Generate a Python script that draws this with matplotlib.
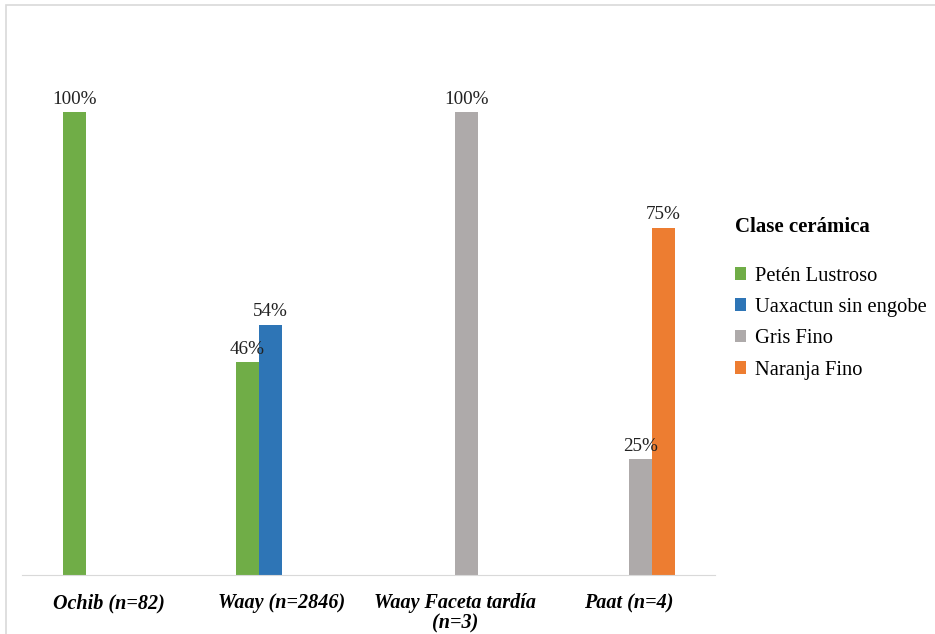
import numpy as np
import matplotlib.pyplot as plt
from matplotlib.patches import Rectangle

categorias = ['Ochib (n=82)', 'Waay (n=2846)', 'Waay Faceta tardía\n(n=3)', 'Paat (n=4)']
series = ['Petén Lustroso', 'Uaxactun sin engobe', 'Gris Fino', 'Naranja Fino']
petén = [1.00, 0.46, 0.0, 0.0]
uaxactun = [0.0, 0.54, 0.0, 0.0]
gris = [0.0, 0.0, 1.00, 0.25]
naranja = [0.0, 0.0, 0.0, 0.75]
colores = ['#70ad47', '#2e75b6', '#aeaaaa', '#ed7d31']

plt.rcParams['font.family'] = ['Liberation Serif', 'DejaVu Serif']

fig = plt.figure(figsize=(9.35, 6.34), dpi=100)
ax = fig.add_axes([0.0235, 0.093, 0.7415, 0.803])

x = np.arange(len(categorias))
ancho = 0.133
valores = [petén, uaxactun, gris, naranja]
for i, (nombre, vals, c) in enumerate(zip(series, valores, colores)):
    pos = x + (i - 1.5) * ancho
    barras = ax.bar(pos, vals, ancho, color=c, label=nombre)
    for b, v in zip(barras, vals):
        if v > 0:
            ax.text(b.get_x() + b.get_width() / 2, v + 0.01, f'{v:.0%}',
                    ha='center', va='bottom', fontsize=13.8, color='#222222')

ax.set_xlim(-0.5, 3.5)
ax.set_ylim(0, 1.1)
ax.set_xticks(x)
ax.set_xticklabels(categorias, fontsize=14.5, fontweight='bold', style='italic',
                   linespacing=1.0)
ax.tick_params(axis='x', length=0, pad=13)
ax.set_yticks([])
for s in ['top', 'right', 'left']:
    ax.spines[s].set_visible(False)
ax.spines['bottom'].set_color('#d9d9d9')

leg = fig.legend(loc='upper left', bbox_to_anchor=(0.777, 0.67), frameon=False,
                 title='Clase cerámica', fontsize=14.8, handlelength=0.55, handleheight=0.55,
                 handletextpad=0.45, labelspacing=0.6, borderaxespad=0)
leg.get_title().set_fontweight('bold')
leg.get_title().set_fontsize(15)
leg._legend_box.align = 'left'
leg._legend_box.sep = 21

# marco exterior
fig.patches.append(Rectangle((6 / 935, -0.05), 1.1, 1 - 5 / 634 + 0.05,
                             transform=fig.transFigure, fill=False,
                             edgecolor='#d9d9d9', linewidth=1.2))

fig.savefig('out.png', dpi=100)
